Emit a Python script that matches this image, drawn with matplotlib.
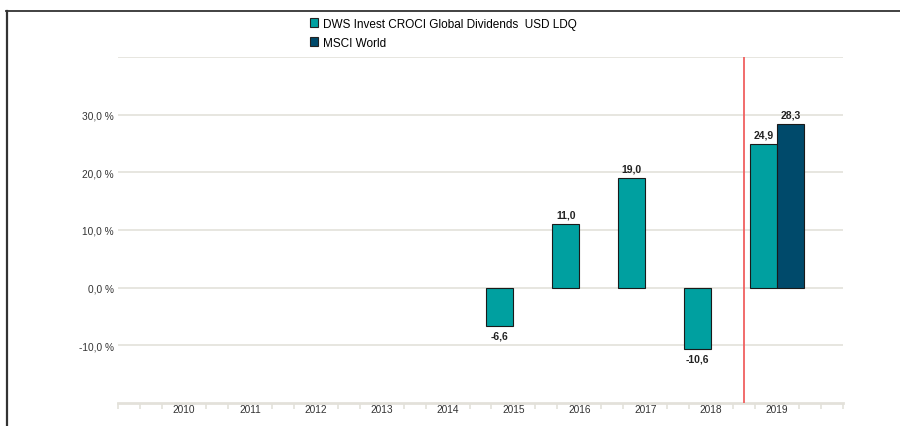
import matplotlib
matplotlib.use("Agg")
import matplotlib.pyplot as plt
from matplotlib.patches import Patch
from matplotlib.lines import Line2D
import numpy as np

plt.rcParams['font.family'] = ['Liberation Sans', 'DejaVu Sans']

years = ["2010", "2011", "2012", "2013", "2014", "2015", "2016", "2017", "2018", "2019"]
fund = [None, None, None, None, None, -6.6, 11.0, 19.0, -10.6, 24.9]
index = [None, None, None, None, None, None, None, None, None, 28.3]
fund_name = "DWS Invest CROCI Global Dividends  USD LDQ"
index_name = "MSCI World"
yticks = [-10, 0, 10, 20, 30]

teal = "#00A0A0"
navy = "#004A6B"
grid_c = "#E3E1DA"

fig = plt.figure(figsize=(9, 4.27), dpi=100)
ax = fig.add_axes([118/900, 1-404/427, 725/900, 346/427])

x = np.arange(len(years))
w = 0.41
for i, v in enumerate(fund):
    if v is not None:
        ax.bar(x[i], v, width=-w, align='edge', color=teal, edgecolor='#1a1a1a', linewidth=0.8, zorder=3)
        txt = f"{v:.1f}".replace('.', ',')
        if v >= 0:
            ax.text(x[i]-w/2, v+0.8, txt, ha='center', va='bottom', fontsize=7.5, fontweight='bold', color='#222222')
        else:
            ax.text(x[i]-w/2, v-0.8, txt, ha='center', va='top', fontsize=7.5, fontweight='bold', color='#222222')
for i, v in enumerate(index):
    if v is not None:
        ax.bar(x[i], v, width=w, align='edge', color=navy, edgecolor='#1a1a1a', linewidth=0.8, zorder=3)
        txt = f"{v:.1f}".replace('.', ',')
        ax.text(x[i]+w/2, v+0.8, txt, ha='center', va='bottom', fontsize=7.5, fontweight='bold', color='#222222')

ax.set_xlim(-1, 10)
ax.set_ylim(-20, 40)
ax.set_yticks(yticks)
ax.set_yticklabels([f"{t:.1f} %".replace('.', ',') for t in yticks], fontsize=7.3, color='#333333')
for gy in yticks + [40]:
    ax.axhline(gy, color=grid_c, linewidth=1.2, zorder=1)
ax.axvline(8.5, color='#F06060', linewidth=1.3, zorder=4)

ax.set_xticks(x)
ax.set_xticklabels(years, fontsize=7.3, color='#333333')
ax.tick_params(axis='x', which='major', length=0, pad=1)
ax.tick_params(axis='y', length=0, pad=3)
minor = [-1] + [i + f for i in range(-1, 10) for f in (1/3, 2/3)] + [10]
ax.set_xticks(minor, minor=True)
ax.tick_params(axis='x', which='minor', length=4, width=1.2, color=grid_c, direction='out')

for s in ['top', 'right', 'left']:
    ax.spines[s].set_visible(False)
ax.spines['bottom'].set_color(grid_c)
ax.spines['bottom'].set_linewidth(2)

handles = [Patch(facecolor=teal, edgecolor='#222222', linewidth=0.8, label=fund_name),
           Patch(facecolor=navy, edgecolor='#222222', linewidth=0.8, label=index_name)]
fig.legend(handles=handles, loc='upper left', bbox_to_anchor=(299/900, 1-8/427), frameon=False,
           fontsize=8.5, handlelength=0.7, handleheight=0.7, handletextpad=0.4, labelspacing=0.6)

fig.add_artist(Line2D([6/900, 1], [1-12/427, 1-12/427], transform=fig.transFigure, color='#333333', linewidth=1.3))
fig.add_artist(Line2D([7/900, 7/900], [0, 1-12/427], transform=fig.transFigure, color='#333333', linewidth=1.6))

fig.savefig("out.png", dpi=100)
